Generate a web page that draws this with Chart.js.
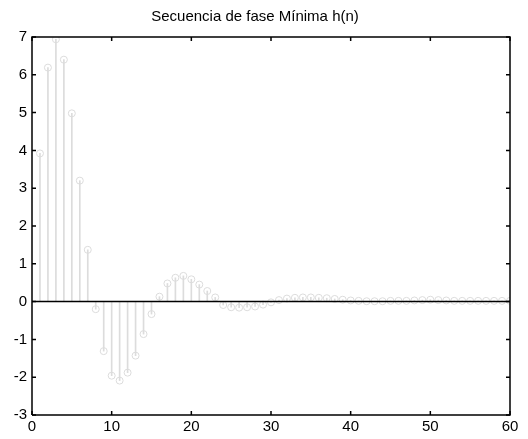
<!DOCTYPE html>
<html>
<head>
<meta charset="utf-8">
<script src="https://cdn.jsdelivr.net/npm/chart.js@4/dist/chart.umd.min.js"></script>
<style>
  html, body { margin: 0; padding: 0; background: #fff; }
  #wrap { width: 528px; height: 439px; }
</style>
</head>
<body>
<div id="wrap"><canvas id="stem-chart"></canvas></div>
<script>
// --- Data ---
const sampleIndex = [1, 2, 3, 4, 5, 6, 7, 8, 9, 10, 11, 12, 13, 14, 15, 16, 17, 18, 19, 20,
  21, 22, 23, 24, 25, 26, 27, 28, 29, 30, 31, 32, 33, 34, 35, 36, 37, 38, 39, 40,
  41, 42, 43, 44, 45, 46, 47, 48, 49, 50, 51, 52, 53, 54, 55, 56, 57, 58, 59, 60];
const hValues = [3.92, 6.19, 6.94, 6.40, 4.98, 3.20, 1.37, -0.20, -1.31, -1.96,
  -2.09, -1.88, -1.43, -0.86, -0.33, 0.13, 0.48, 0.63, 0.68, 0.59,
  0.45, 0.28, 0.11, -0.09, -0.15, -0.16, -0.15, -0.13, -0.08, -0.02,
  0.04, 0.08, 0.10, 0.11, 0.11, 0.10, 0.09, 0.07, 0.05, 0.03,
  0.02, 0.01, 0.01, 0.01, 0.02, 0.02, 0.02, 0.03, 0.04, 0.05,
  0.04, 0.03, 0.02, 0.02, 0.02, 0.02, 0.02, 0.02, 0.02, 0.02];
const xTicks = [0, 10, 20, 30, 40, 50, 60];
const yTicks = [-3, -2, -1, 0, 1, 2, 3, 4, 5, 6, 7];
const xLimits = [0, 60];
const yLimits = [-3, 7];
const chartTitle = 'Secuencia de fase Mínima h(n)';

const stemColor = '#dcdcdc';
const labelFont = { family: "'Liberation Sans', Arial, sans-serif", size: 15 };

// axes box, traced along the axis limits
const framePoints = [
    { x: xLimits[0], y: yLimits[0] }, { x: xLimits[1], y: yLimits[0] },
    { x: xLimits[1], y: yLimits[1] }, { x: xLimits[0], y: yLimits[1] },
    { x: xLimits[0], y: yLimits[0] }
];

// Inward tick marks on all four sides (matlab style)
const inwardTicks = {
    id: 'inwardTicks',
    afterDraw(chart) {
        try {
            const c = chart.ctx;
            const a = chart.chartArea;
            const sx = chart.scales.x;
            const sy = chart.scales.y;
            c.save();
            c.strokeStyle = '#000000';
            c.lineWidth = 1.5;
            c.beginPath();
            xTicks.forEach(v => {
                const px = sx.getPixelForValue(v);
                c.moveTo(px, a.bottom); c.lineTo(px, a.bottom - 4);
                c.moveTo(px, a.top); c.lineTo(px, a.top + 4);
            });
            yTicks.forEach(v => {
                const py = sy.getPixelForValue(v);
                c.moveTo(a.left, py); c.lineTo(a.left + 4, py);
                c.moveTo(a.right, py); c.lineTo(a.right - 4, py);
            });
            c.stroke();
            c.restore();
        } catch (e) {
            console.log('tick draw failed', e);
        }
    }
};

const chartCtx = document.getElementById('stem-chart').getContext('2d');
new Chart(chartCtx, {
    type: 'bar',
    data: {
        datasets: [
            {
                type: 'line',
                data: framePoints,
                borderColor: '#000',
                borderWidth: 1.5,
                pointRadius: 0,
                tension: 0,
                clip: false,
                order: 0
            },
            {
                type: 'line',
                data: xLimits.map(x => ({ x: x, y: 0 })),
                borderColor: '#000',
                borderWidth: 1.5,
                pointRadius: 0,
                order: 0
            },
            {
                type: 'scatter',
                data: sampleIndex.map((x, i) => ({ x: x, y: hValues[i] })),
                pointRadius: 3.5,
                borderColor: stemColor,
                borderWidth: 1,
                backgroundColor: 'rgba(255,255,255,0)',
                order: 1
            },
            {
                type: 'bar',
                data: sampleIndex.map((x, i) => ({ x: x, y: [0, hValues[i]] })),
                backgroundColor: stemColor,
                barThickness: 1,
                order: 2
            }
        ]
    },
    options: {
        responsive: true,
        maintainAspectRatio: false,
        animation: false,
        layout: { padding: { left: 0, right: 18, top: 0, bottom: 0 } },
        plugins: {
            legend: { display: false },
            title: {
                display: true,
                text: chartTitle,
                color: '#000',
                font: { family: labelFont.family, size: 15, weight: 'normal' },
                padding: { top: 8, bottom: 11 }
            }
        },
        scales: {
            x: {
                type: 'linear',
                min: xLimits[0], max: xLimits[1],
                offset: false,
                afterBuildTicks: s => { s.ticks = xTicks.map(v => ({ value: v })); },
                afterFit: s => { s.height = 24; },
                grid: { display: false, drawTicks: false },
                border: { display: false },
                ticks: { color: '#000', padding: 3, font: labelFont }
            },
            y: {
                min: yLimits[0], max: yLimits[1],
                afterBuildTicks: s => { s.ticks = yTicks.map(v => ({ value: v })); },
                afterFit: s => { s.width = 32; },
                grid: { display: false, drawTicks: false },
                border: { display: false },
                ticks: { color: '#000', padding: 5, font: labelFont }
            }
        }
    },
    plugins: [inwardTicks]
});
</script>
</body>
</html>
